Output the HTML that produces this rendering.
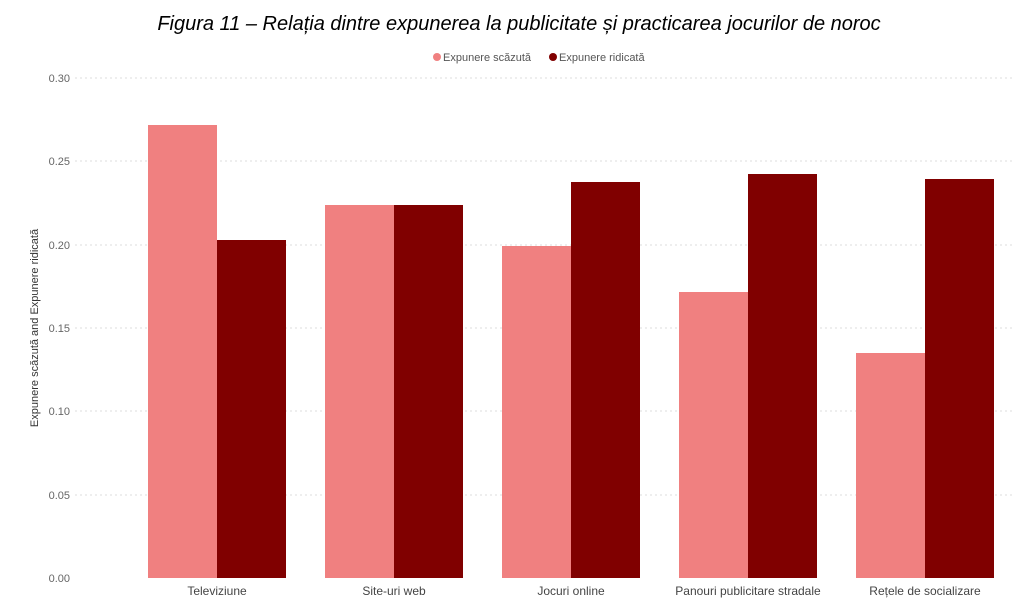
<!DOCTYPE html>
<html><head><meta charset="utf-8"><style>
body{margin:0;background:#fff;width:1024px;height:610px;overflow:hidden}
svg{display:block}
</style></head><body>
<svg width="1024" height="610" xmlns="http://www.w3.org/2000/svg" font-family="Liberation Sans, sans-serif">
<text x="519" y="30" text-anchor="middle" font-size="20" font-style="italic" fill="#000">Figura 11 – Relația dintre expunerea la publicitate și practicarea jocurilor de noroc</text>
<circle cx="437" cy="57" r="4" fill="#F08080"/>
<text x="443" y="61" font-size="11" fill="#555">Expunere scăzută</text>
<circle cx="553" cy="57" r="4" fill="#800000"/>
<text x="559" y="61" font-size="11" fill="#555">Expunere ridicată</text>
<g stroke="#ddd" stroke-dasharray="2,3" stroke-width="1">
<line x1="75" x2="1015" y1="78" y2="78"/><line x1="75" x2="1015" y1="161" y2="161"/><line x1="75" x2="1015" y1="245" y2="245"/><line x1="75" x2="1015" y1="328" y2="328"/><line x1="75" x2="1015" y1="411" y2="411"/><line x1="75" x2="1015" y1="495" y2="495"/>
</g>
<g font-size="11" fill="#666" text-anchor="end">
<text x="70" y="82">0.30</text><text x="70" y="165">0.25</text><text x="70" y="249">0.20</text><text x="70" y="332">0.15</text><text x="70" y="415">0.10</text><text x="70" y="499">0.05</text><text x="70" y="582">0.00</text>
</g>
<text transform="translate(38,328) rotate(-90)" text-anchor="middle" font-size="11" fill="#333">Expunere scăzută and Expunere ridicată</text>
<g fill="#F08080">
<rect x="148" y="125" width="69" height="453"/><rect x="325" y="205" width="69" height="373"/><rect x="502" y="246" width="69" height="332"/><rect x="679" y="292" width="69" height="286"/><rect x="856" y="353" width="69" height="225"/>
</g>
<g fill="#800000">
<rect x="217" y="240" width="69" height="338"/><rect x="394" y="205" width="69" height="373"/><rect x="571" y="182" width="69" height="396"/><rect x="748" y="174" width="69" height="404"/><rect x="925" y="179" width="69" height="399"/>
</g>
<g font-size="12" fill="#444" text-anchor="middle">
<text x="217" y="595">Televiziune</text><text x="394" y="595">Site-uri web</text><text x="571" y="595">Jocuri online</text><text x="748" y="595">Panouri publicitare stradale</text><text x="925" y="595">Rețele de socializare</text>
</g>
</svg>
</body></html>
